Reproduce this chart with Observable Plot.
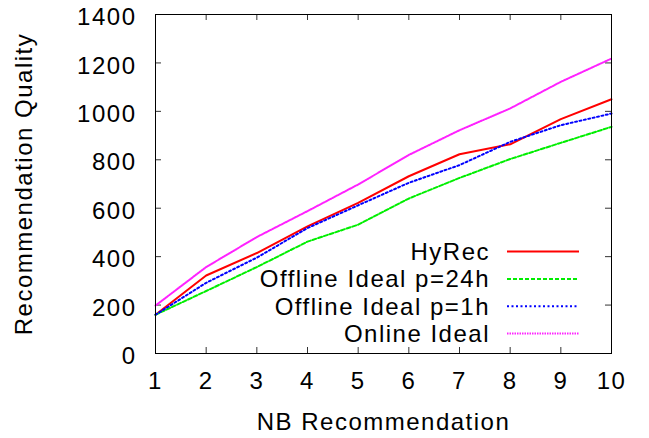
<!DOCTYPE html>
<html><head><meta charset="utf-8">
<script src="https://cdn.jsdelivr.net/npm/d3@7"></script>
<script src="https://cdn.jsdelivr.net/npm/@observablehq/plot@0.6"></script>
<style>
body{margin:0;background:#fff}
svg text{letter-spacing:1.5px}
</style>
</head><body><div id="chart"></div>
<script>
const nbRec = [1,2,3,4,5,6,7,8,9,10];
const hyrec     = [160, 322, 415, 525, 622, 732, 823, 864, 968, 1050];
const offline24 = [160, 258, 357, 462, 532, 640, 725, 803, 870, 936];
const offline1  = [160, 292, 396, 518, 612, 705, 778, 874, 943, 991];
const online    = [198, 357, 481, 588, 698, 820, 922, 1012, 1122, 1218];
const seriesNames = ["HyRec", "Offline Ideal p=24h", "Offline Ideal p=1h", "Online Ideal"];
const seriesValues = [hyrec, offline24, offline1, online];
const yTicks = [0, 200, 400, 600, 800, 1000, 1200, 1400];
const xTicks = nbRec;
const xLabel = "NB Recommendation";
const yLabel = "Recommendation Quality";

const colors = ["#ff0000", "#00ee00", "#0000ff", "#ff22ff"];
const dashes = [null, "4,2", "2,2.5", "1.5,1"];

const data = seriesNames.flatMap((s, i) => nbRec.map((x, j) => ({series: s, x, y: seriesValues[i][j]})));

const W = 649, H = 438, ML = 155, MR = 38, MT = 14, MB = 85;
const plotW = W - ML - MR, plotH = H - MT - MB, TICK = 6;

const legend = (index, scales, values, dims) => {
  const g = d3.create("svg:g").attr("font-size", 24);
  const right = dims.width - dims.marginRight;
  const bottom = dims.height - dims.marginBottom;
  seriesNames.forEach((s, i) => {
    const y = bottom - 19.5 - (seriesNames.length - 1 - i) * 27.3;
    g.append("text").attr("x", right - 121).attr("y", y).attr("dy", "0.35em")
      .attr("text-anchor", "end").attr("fill", "#000").text(s);
    g.append("line").attr("x1", right - 104).attr("x2", right - 32).attr("y1", y).attr("y2", y)
      .attr("stroke", colors[i]).attr("stroke-width", 2)
      .attr("stroke-dasharray", dashes[i]);
  });
  return g.node();
};

const plot = Plot.plot({
  width: W, height: H,
  marginLeft: ML, marginRight: MR, marginTop: MT, marginBottom: MB,
  style: {fontFamily: "'Liberation Sans', Arial, sans-serif", fontSize: "24px", background: "#fff", color: "#000", overflow: "visible"},
  x: {domain: [1, 10]},
  y: {domain: [0, 1400]},
  marks: [
    Plot.axisX(xTicks, {anchor: "bottom", tickSize: 0, tickPadding: 18, label: null, fontSize: 24, tickFormat: d => String(d)}),
    Plot.axisY(yTicks, {anchor: "left", tickSize: 0, tickPadding: 19, dy: 3, label: null, fontSize: 24, tickFormat: d => String(d)}),
    Plot.tickX(xTicks, {x: d => d, insetTop: plotH - TICK, stroke: "#333"}),
    Plot.tickX(xTicks, {x: d => d, insetBottom: plotH - TICK, stroke: "#333"}),
    Plot.tickY(yTicks, {y: d => d, insetRight: plotW - TICK, stroke: "#333"}),
    Plot.tickY(yTicks, {y: d => d, insetLeft: plotW - TICK, stroke: "#333"}),
    ...seriesNames.map((s, i) => Plot.line(data.filter(d => d.series === s), {
      x: "x", y: "y", stroke: colors[i], strokeWidth: 2, strokeDasharray: dashes[i]
    })),
    Plot.frame({stroke: "#000", strokeWidth: 1}),
    Plot.text([xLabel], {frameAnchor: "bottom", dy: 69, lineAnchor: "middle", textAnchor: "middle", fontSize: 24, fill: "#000"}),
    Plot.text([yLabel], {frameAnchor: "left", dx: -131, rotate: -90, lineAnchor: "middle", textAnchor: "middle", fontSize: 24, fill: "#000"}),
    legend
  ]
});
document.getElementById("chart").appendChild(plot);
</script>
</body></html>
